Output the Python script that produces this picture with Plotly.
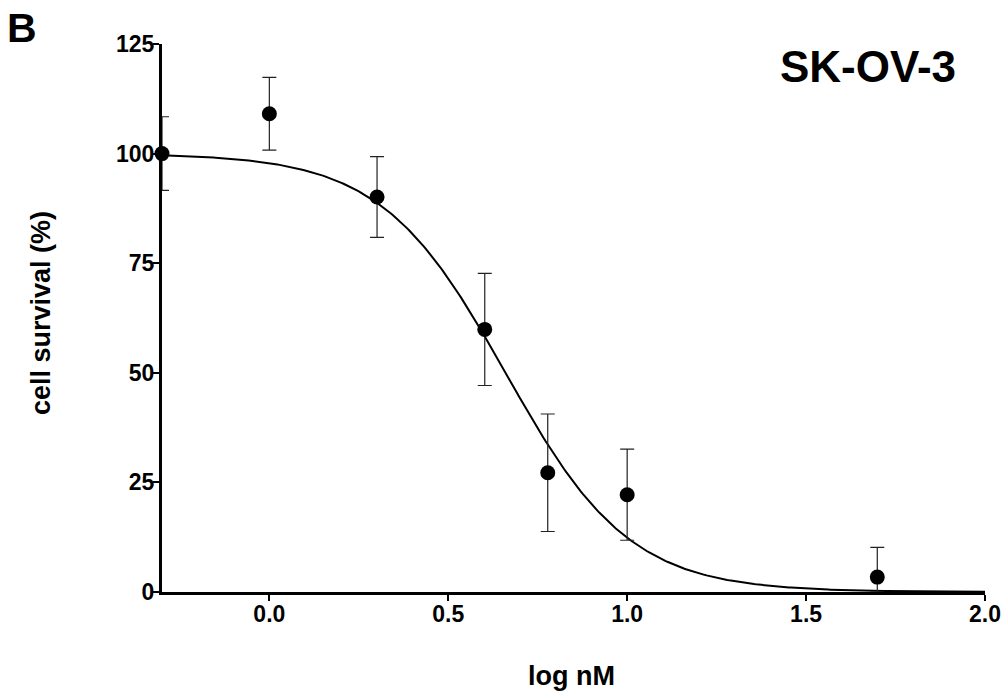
import numpy as np
import plotly.graph_objects as go

# Dose (log nM) vs. mean cell survival with SD
log_dose = [-0.3, 0.0, 0.301, 0.602, 0.778, 1.0, 1.699]
survival = [100.0, 109.1, 90.1, 59.9, 27.2, 22.2, 3.4]
sd = [8.4, 8.3, 9.2, 12.8, 13.4, 10.4, 6.8]

# Sigmoidal dose-response fit parameters
fit_top = 100.0
fit_bottom = 0.0
fit_log_ic50 = 0.66
fit_hill = 2.5

x_ticks = [0.0, 0.5, 1.0, 1.5, 2.0]
x_tick_text = ["0.0", "0.5", "1.0", "1.5", "2.0"]
y_ticks = [0, 25, 50, 75, 100, 125]

FONT = "Liberation Sans"

xs = np.linspace(-0.3, 2.0, 400)
ys = fit_bottom + (fit_top - fit_bottom) / (1 + 10 ** ((xs - fit_log_ic50) * fit_hill))

# lower bars stop at the x axis
sd_minus = [min(e, v) for e, v in zip(sd, survival)]

fig = go.Figure()
fig.add_trace(go.Scatter(
    x=xs, y=ys, mode="lines",
    line=dict(color="black", width=2),
    hoverinfo="skip", cliponaxis=False,
))
fig.add_trace(go.Scatter(
    x=log_dose, y=survival, mode="markers",
    marker=dict(color="black", size=15),
    error_y=dict(type="data", array=sd, arrayminus=sd_minus, symmetric=False,
                 color="#222222", thickness=1.2, width=7),
    cliponaxis=False,
))

axis_common = dict(
    showline=True, linewidth=3, linecolor="black",
    ticks="outside", ticklen=6, tickwidth=2, tickcolor="black",
    showgrid=False, zeroline=False, automargin=False,
    tickfont=dict(family=FONT, size=23, color="black", weight="bold"),
)

fig.update_layout(
    width=1004, height=697,
    margin=dict(l=162, r=19, t=44, b=105),
    paper_bgcolor="white", plot_bgcolor="white",
    showlegend=False,
    xaxis=dict(range=[-0.3, 2.0], tickvals=x_ticks, ticktext=x_tick_text,
               ticklabelstandoff=-7, **axis_common),
    yaxis=dict(range=[0, 125], tickvals=y_ticks, ticklabelstandoff=-6, **axis_common),
    annotations=[
        dict(text="cell survival (%)", xref="paper", yref="paper",
             x=-0.147, y=0.509, xanchor="center", yanchor="middle",
             textangle=-90, showarrow=False,
             font=dict(family=FONT, size=27, color="black", weight="bold")),
        dict(text="log nM", xref="paper", yref="paper",
             x=0.497, y=-0.153, xanchor="center", yanchor="middle",
             showarrow=False,
             font=dict(family=FONT, size=27, color="black", weight="bold")),
        dict(text="SK-OV-3", xref="paper", yref="paper",
             x=(867.5 - 162) / 823, y=(592 - 66) / 548,
             xanchor="center", yanchor="middle", showarrow=False,
             font=dict(family=FONT, size=44, color="black", weight="bold")),
        dict(text="B", xref="paper", yref="paper",
             x=(21.5 - 162) / 823, y=(592 - 28) / 548,
             xanchor="center", yanchor="middle", showarrow=False,
             font=dict(family=FONT, size=41, color="black", weight="bold")),
    ],
)

fig.write_html("out.html")
